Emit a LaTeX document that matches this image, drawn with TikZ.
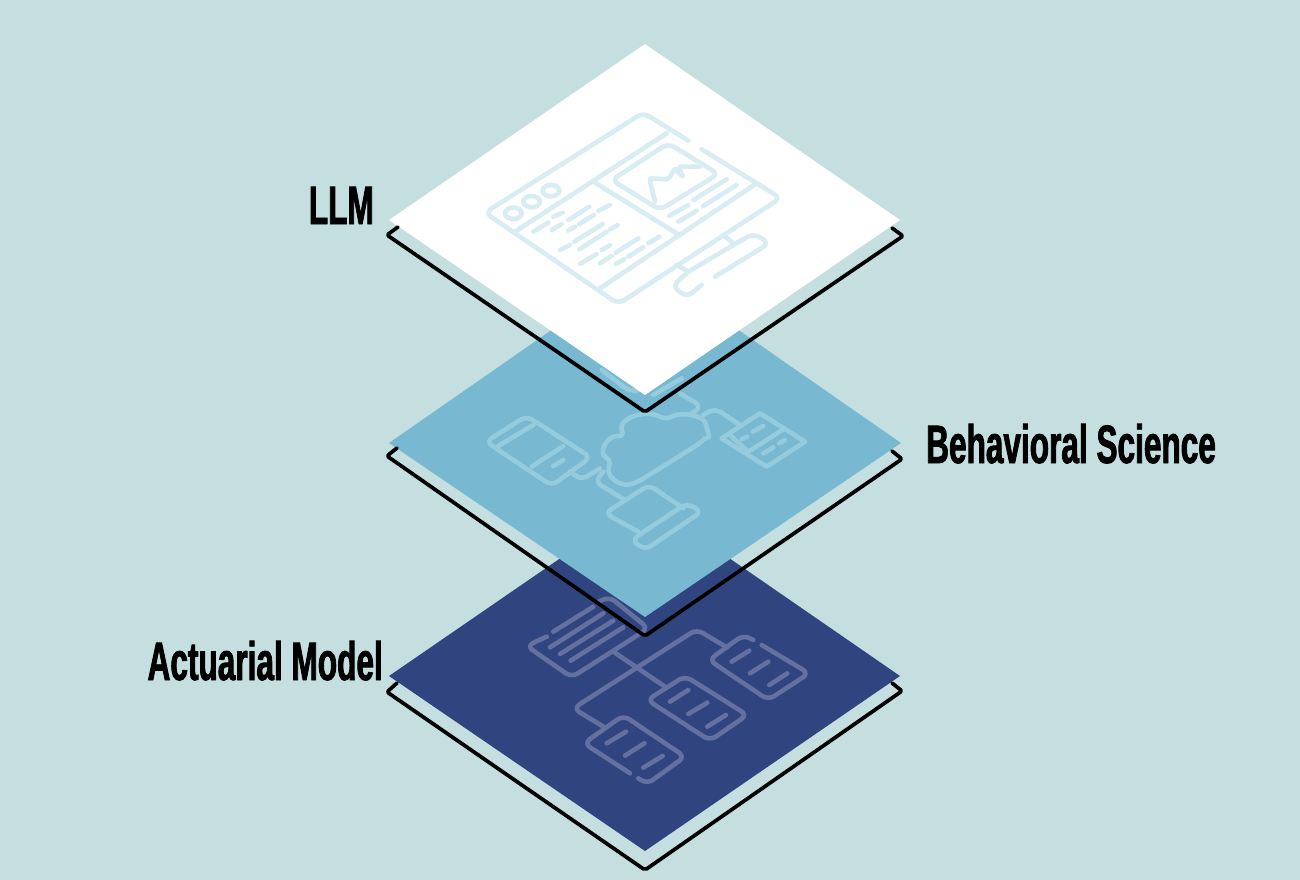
\documentclass[tikz,border=0pt]{standalone}
\usepackage{fontspec}
\usepackage{xcolor}
\setmainfont{Liberation Sans}[FakeStretch=0.585,BoldFeatures={FakeBold=1.5}]
\definecolor{paper}{HTML}{C5DFE0}
\definecolor{midblue}{HTML}{78B8D0}
\definecolor{navy}{HTML}{30457F}
\definecolor{iconwhite}{HTML}{D8ECF3}
\definecolor{iconmid}{HTML}{94CBDD}
\definecolor{iconnavy}{HTML}{64709F}
\tikzset{
 layeredge/.style={draw=black, line width=3.7pt, line cap=round, line join=round, rounded corners=2pt},
 icon/.style={line width=4.6pt, line cap=round, line join=round, rounded corners=7pt},
 zoomed/.style={x=.3333pt, y=-.3333pt},
 tag/.style={inner sep=0pt, font=\bfseries\fontsize{54}{54}\selectfont}
}
\begin{document}
\begin{tikzpicture}[x=1pt,y=-1pt]
\fill[paper] (0,0) rectangle (1300,880);
\useasboundingbox (0,0) rectangle (1300,880);
% actuarial model layer
\fill[navy] (645,500) -- (900,676) -- (645,851) -- (389,676) -- cycle;
\begin{scope}[shift={(510,590)},zoomed,icon,draw=iconnavy]
\draw (110,140) -- (50,168) -- (185,262) -- (415,115) -- (298,20) -- (262,37);
\foreach \ax/\ay/\bx/\by in {130/125/250/50, 120/172/280/70, 150/192/310/92, 182/212/340/112,
 665/215/718/182, 720/250/775/215, 778/285/832/250,
 480/335/535/300, 535/372/592/338, 592/410/648/375,
 290/460/348/425, 345/497/403/460, 400/533/458/498}
 \draw (\ax,\ay) -- (\bx,\by);
\draw (310,185) -- (465,290);
\draw (280,410) -- (190,355) -- (560,118) -- (650,172);
\draw (730,150) -- (700,135) -- (597,210) -- (775,330) -- (897,250) -- (755,165);
\draw (525,258) -- (712,375) -- (600,452) -- (412,330) -- cycle;
\draw (360,550) -- (222,460) -- (340,376) -- (525,500) -- (412,582) -- (385,565);
\end{scope}
\draw[layeredge] (397,683) -- (387,692) -- (645,870) -- (902,691) -- (892,683);
% behavioral science layer
\fill[midblue] (645,265) -- (901,443) -- (645,617) -- (389,443) -- cycle;
\begin{scope}[shift={(470,340)},zoomed,icon,draw=iconmid]
\draw (395,90) -- (480,155) -- (510,150);
\draw (550,165) -- (635,115);
\draw (630,160) -- (695,200) -- (665,220);
\draw (700,225) -- (735,205) -- (810,255);
\draw (500,428) .. controls (450,440) and (405,410) .. (425,360) .. controls (385,340) and (410,285) .. (465,290)
 .. controls (440,240) and (520,205) .. (590,240) .. controls (630,215) and (700,225) .. (712,270)
 .. controls (718,290) and (700,300) .. (690,310) -- cycle;
\draw (170,228) -- (362,352) -- (245,437) -- (48,305) -- cycle;
\draw (85,318) -- (190,255);
\draw (185,380) -- (280,318);
\draw (250,378) -- (280,360);
\draw (300,395) -- (335,420) -- (390,385);
\draw (400,395) -- (375,425) -- (465,480);
\draw (505,575) -- (405,520) -- (537,435) -- (640,505);
\draw (650,490) -- (695,515) -- (525,630) -- (485,600) -- cycle;
\draw[rounded corners=0pt] (870,220) -- (1005,305) -- (890,380) -- (755,295) -- cycle;
\draw (835,335) -- (945,265);
\draw (780,285) -- (835,335);
\foreach \ax/\ay/\bx/\by in {815/298/832/290, 848/275/880/258, 880/340/910/322, 928/310/945/300}
 \draw (\ax,\ay) -- (\bx,\by);
\end{scope}
\draw[layeredge] (397,448) -- (387,456) -- (645,636) -- (902,459) -- (892,451);
% llm layer
\fill[white] (645,44) -- (900,220) -- (645,395) -- (389,220) -- cycle;
\begin{scope}[shift={(470,100)},zoomed,icon,draw=iconwhite]
\draw (655,122) -- (520,38) -- (45,338) -- (445,612) -- (932,294) -- (695,148);
\draw (590,100) -- (135,395);
\draw (860,250) -- (390,565);
\draw (370,245) -- (620,400);
\foreach \cx/\cy in {130/340, 185/305, 243/272}
 \draw (\cx,\cy) ellipse (25 and 17);
\draw (595,130) -- (745,222) -- (570,330) -- (425,240) -- cycle;
\draw[rounded corners=2pt] (555,305) -- (538,235) -- (595,238) -- (615,205) -- (640,232) -- (625,200) -- (690,200);
\foreach \ax/\ay/\bx/\by in {670/300/770/238, 700/318/800/255, 597/348/655/315, 625/365/680/332,
 190/395/235/368, 245/390/275/372, 250/350/278/338, 295/360/358/320, 328/372/372/345, 385/333/420/315,
 295/392/315/380, 313/425/398/372, 420/388/443/375, 328/448/410/395, 270/450/300/435, 395/450/420/435,
 437/458/505/415, 475/470/520/442, 535/430/568/410, 330/492/380/462, 390/490/425/468, 437/492/463/478}
 \draw (\ax,\ay) -- (\bx,\by);
\draw (760,405) -- (790,430);
\draw (620,495) -- (655,515);
\draw (655,515) -- (850,400) -- (898,430) -- (735,530);
\draw (695,555) -- (650,592) -- (607,558) -- (655,515);
\end{scope}
\draw[layeredge] (398,227) -- (387,235) -- (645,412) -- (903,236) -- (892,228);
% labels
\node[tag, anchor=base east] (llm) at (374,224) {LLM};
\node[tag, anchor=base west] (behavioral) at (926,463) {Behavioral Science};
\node[tag, anchor=base east] (actuarial) at (383,680) {Actuarial Model};
\end{tikzpicture}
\end{document}
